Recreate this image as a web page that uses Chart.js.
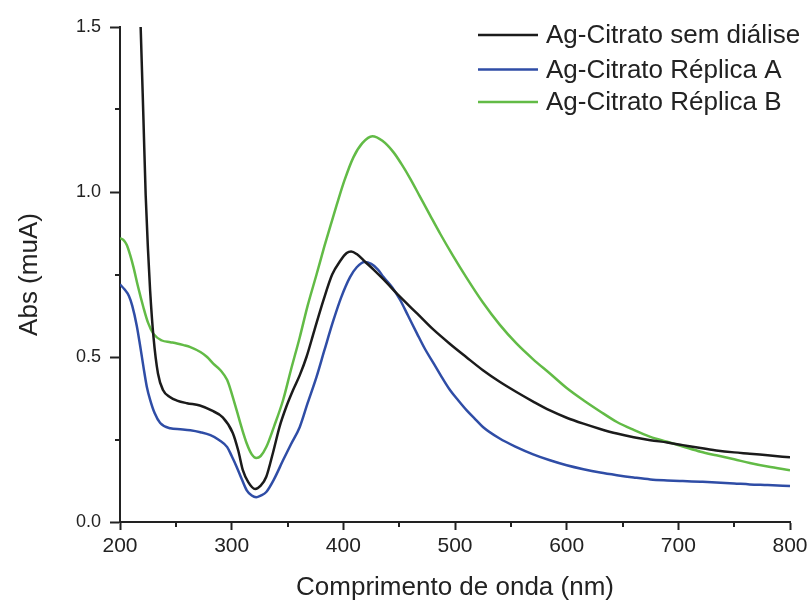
<!DOCTYPE html>
<html>
<head>
<meta charset="utf-8">
<script src="https://cdn.jsdelivr.net/npm/chart.js@4/dist/chart.umd.min.js"></script>
<style>
  html, body { margin: 0; padding: 0; background: #fff; }
  #wrap { width: 809px; height: 601px; }
</style>
</head>
<body>
<div id="wrap"><canvas id="chart" width="809" height="601"></canvas></div>
<script>
// ─── DATA ────────────────────────────────────────────────────
const seriesLabels = ["Ag-Citrato sem diálise", "Ag-Citrato Réplica A", "Ag-Citrato Réplica B"];

const semDialiseX = [216.5, 218.5, 221, 223, 225, 227, 230, 234, 238.5, 245, 251, 260, 271.5, 282, 292, 301, 306, 310, 315, 321, 326, 331, 337, 343, 349, 355, 361, 367, 374, 382, 390, 397, 403, 407, 412, 420, 428, 436, 450, 466, 480, 495, 510, 525, 540, 555, 570, 585, 600, 615, 630, 645, 660, 675, 690, 704, 720, 734, 750, 764, 780, 800];
const semDialiseY = [1.68, 1.50, 1.22, 0.99, 0.83, 0.70, 0.56, 0.45, 0.40, 0.378, 0.368, 0.36, 0.353, 0.338, 0.317, 0.27, 0.215, 0.157, 0.12, 0.10, 0.11, 0.137, 0.21, 0.29, 0.35, 0.40, 0.445, 0.50, 0.58, 0.67, 0.75, 0.79, 0.815, 0.82, 0.812, 0.787, 0.762, 0.735, 0.685, 0.632, 0.585, 0.541, 0.50, 0.46, 0.425, 0.394, 0.365, 0.338, 0.316, 0.298, 0.282, 0.268, 0.257, 0.248, 0.241, 0.233, 0.224, 0.217, 0.211, 0.207, 0.202, 0.196];

const replicaAX = [200, 204, 208, 211, 215, 218, 221, 224, 227, 231, 236, 245, 254, 263, 272, 281, 289, 296, 300, 304.5, 309, 313.5, 318, 322, 326, 331, 338, 346, 353, 361, 368, 376, 383, 391, 398, 406, 412, 419, 425, 431, 436, 444, 451, 458, 466, 473, 481, 488, 495.5, 503, 510.5, 518, 525, 540, 555, 570, 585, 600, 615, 630, 645, 660, 675, 690, 704, 720, 734, 750, 764, 780, 800];
const replicaAY = [0.72, 0.705, 0.685, 0.655, 0.595, 0.535, 0.47, 0.41, 0.37, 0.33, 0.30, 0.284, 0.281, 0.278, 0.272, 0.263, 0.248, 0.227, 0.20, 0.167, 0.13, 0.096, 0.08, 0.075, 0.08, 0.091, 0.13, 0.187, 0.235, 0.288, 0.36, 0.44, 0.52, 0.61, 0.68, 0.742, 0.772, 0.788, 0.782, 0.765, 0.742, 0.71, 0.672, 0.625, 0.571, 0.525, 0.48, 0.44, 0.40, 0.368, 0.338, 0.312, 0.288, 0.253, 0.227, 0.205, 0.187, 0.172, 0.16, 0.15, 0.142, 0.135, 0.129, 0.126, 0.124, 0.122, 0.12, 0.117, 0.114, 0.112, 0.109];

const replicaBX = [200, 203, 206, 209, 212, 216, 221, 225, 230, 237.5, 245, 251, 257, 263, 272, 278, 283.5, 290, 296, 300, 304.5, 309, 313.5, 318, 322, 326, 331, 338, 346, 353, 361, 368, 376, 383, 390, 394, 401, 409, 417, 426, 435, 445, 452, 460, 468, 477.6, 487, 498, 510, 525, 540, 555, 570, 585, 600, 615, 630, 645, 660, 675, 690, 704, 720, 734, 750, 764, 780, 800];
const replicaBY = [0.86, 0.855, 0.84, 0.81, 0.773, 0.715, 0.65, 0.605, 0.57, 0.55, 0.545, 0.541, 0.536, 0.53, 0.515, 0.50, 0.48, 0.46, 0.43, 0.39, 0.338, 0.285, 0.238, 0.205, 0.194, 0.20, 0.227, 0.29, 0.369, 0.46, 0.56, 0.655, 0.75, 0.835, 0.915, 0.96, 1.035, 1.105, 1.148, 1.169, 1.155, 1.12, 1.085, 1.04, 0.99, 0.93, 0.872, 0.808, 0.742, 0.665, 0.598, 0.541, 0.493, 0.45, 0.406, 0.369, 0.335, 0.303, 0.279, 0.258, 0.243, 0.229, 0.213, 0.202, 0.19, 0.179, 0.168, 0.157];

const xMajorTicks = [200, 300, 400, 500, 600, 700, 800];
const xMinorTicks = [250, 350, 450, 550, 650, 750];
const yMajorTicks = [0, 0.5, 1.0, 1.5];
const yMinorTicks = [0.25, 0.75, 1.25];

const colors = ["#1b1b1b", "#2f4da6", "#62bb46"];
const AXIS = "#222";

function toPoints(xs, ys) {
    return xs.map((x, i) => ({ x: x, y: ys[i] }));
}

// ─── PLUGINS ─────────────────────────────────────────────────
// minor ticks, outward, shorter than the major ones
const minorTicks = {
    id: "minorTicks",
    afterDraw(chart) {
        const ctx = chart.ctx;
        const xs = chart.scales.x, ys = chart.scales.y;
        const a = chart.chartArea;
        ctx.save();
        ctx.strokeStyle = AXIS;
        ctx.lineWidth = 2;
        ctx.beginPath();
        xMinorTicks.forEach(v => {
            const px = Math.round(xs.getPixelForValue(v));
            ctx.moveTo(px, a.bottom);
            ctx.lineTo(px, a.bottom + 5);
        });
        yMinorTicks.forEach(v => {
            const py = Math.round(ys.getPixelForValue(v));
            ctx.moveTo(a.left, py);
            ctx.lineTo(a.left - 5, py);
        });
        ctx.stroke();
        ctx.restore();
    }
};

// legend drawn in the top-right corner, over the plot
const cornerLegend = {
    id: "cornerLegend",
    afterDraw(chart) {
        const ctx = chart.ctx;
        const a = chart.chartArea;
        const x0 = a.right - 312;
        const rows = [8, 42.5, 75];
        ctx.save();
        ctx.font = "26px 'Liberation Sans', Arial, sans-serif";
        ctx.textBaseline = "middle";
        ctx.fillStyle = AXIS;
        chart.data.datasets.forEach((ds, i) => {
            const y = a.top + rows[i];
            ctx.strokeStyle = ds.borderColor;
            ctx.lineWidth = 2.5;
            ctx.beginPath();
            ctx.moveTo(x0, y);
            ctx.lineTo(x0 + 60, y);
            ctx.stroke();
            ctx.fillText(ds.label, x0 + 68, y + 1);
        });
        ctx.restore();
    }
};

// ─── CHART ───────────────────────────────────────────────────
function makeDataset(i, xs, ys) {
    return {
        label: seriesLabels[i],
        data: toPoints(xs, ys),
        borderColor: colors[i],
        backgroundColor: colors[i],
        borderWidth: 2.5,
        pointRadius: 0,
        cubicInterpolationMode: "monotone",
        fill: false
    };
}

const ctx = document.getElementById("chart").getContext("2d");
new Chart(ctx, {
    type: "line",
    data: {
        datasets: [
            makeDataset(0, semDialiseX, semDialiseY),
            makeDataset(1, replicaAX, replicaAY),
            makeDataset(2, replicaBX, replicaBY)
        ]
    },
    options: {
        responsive: false,
        animation: false,
        layout: { padding: { top: 27, right: 19, left: 0, bottom: 0 } },
        plugins: {
            legend: { display: false },
            tooltip: { enabled: false }
        },
        scales: {
            x: {
                type: "linear",
                min: 200,
                max: 800,
                afterBuildTicks: s => { s.ticks = xMajorTicks.map(v => ({ value: v })); },
                afterFit: s => { s.height = 79; s.paddingRight = 0; s.paddingLeft = 0; },
                border: { color: AXIS, width: 2 },
                grid: { drawOnChartArea: false, drawTicks: true, tickLength: 8, tickColor: AXIS, tickWidth: 2 },
                ticks: {
                    color: "#222",
                    padding: 4,
                    maxRotation: 0,
                    font: { family: "'Liberation Sans', Arial, sans-serif", size: 21 },
                    callback: v => String(v)
                },
                title: {
                    display: true,
                    text: "Comprimento de onda (nm)",
                    color: "#222",
                    padding: { top: 0, bottom: 0 },
                    font: { family: "'Liberation Sans', Arial, sans-serif", size: 26, lineHeight: 1.0 }
                }
            },
            y: {
                min: 0,
                max: 1.5,
                afterBuildTicks: s => { s.ticks = yMajorTicks.map(v => ({ value: v })); },
                afterFit: s => { s.width = 120; },
                border: { color: AXIS, width: 2 },
                grid: { drawOnChartArea: false, drawTicks: true, tickLength: 10, tickColor: AXIS, tickWidth: 2 },
                ticks: {
                    color: "#222",
                    padding: 9,
                    font: { family: "'Liberation Sans', Arial, sans-serif", size: 18 },
                    callback: v => Number(v).toFixed(1)
                },
                title: {
                    display: true,
                    text: "Abs (muA)",
                    color: "#222",
                    padding: { top: 17, bottom: 0 },
                    font: { family: "'Liberation Sans', Arial, sans-serif", size: 26, lineHeight: 1.0 }
                }
            }
        }
    },
    plugins: [minorTicks, cornerLegend]
});
</script>
</body>
</html>
